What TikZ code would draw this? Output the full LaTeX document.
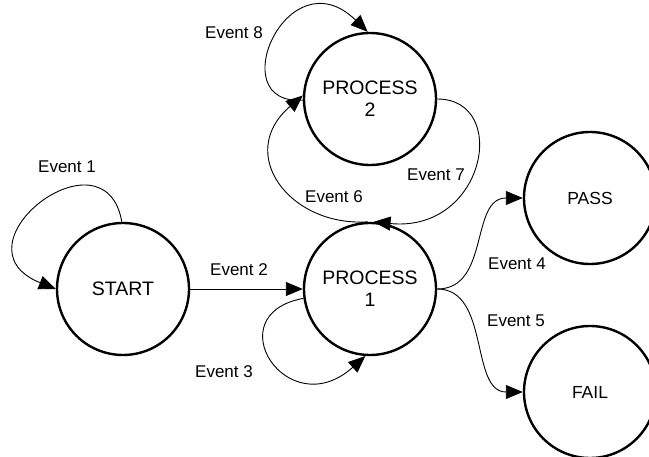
\documentclass[tikz,border=0pt]{standalone}
\usepackage{fontspec}
\setmainfont{Liberation Sans}
\usetikzlibrary{arrows.meta}
\tikzset{
  statenode/.style={circle, draw, line width=2.4pt, minimum size=132pt, inner sep=0pt, align=center,
    font=\fontsize{17.5}{22}\selectfont},
  bigstate/.style={statenode, font=\fontsize{19.5}{22}\selectfont},
  evlabel/.style={font=\fontsize{17}{20}\selectfont, inner sep=0pt},
  conn/.style={line width=0.9pt, -{Triangle[length=17pt,width=14pt]}},
}
\begin{document}
\begin{tikzpicture}[x=1pt,y=-1pt]
\useasboundingbox (0,0) rectangle (649,457);
\clip (0,0) rectangle (649,457);
\node[bigstate] (s)  at (123,289) {START};
\node[bigstate] (p1) at (370,289) {PROCESS\\1};
\node[bigstate] (p2) at (370,99)  {PROCESS\\2};
\node[statenode] (pa) at (590,198) {PASS};
\node[statenode] (fa) at (590,392) {FAIL};

\node[evlabel] (l1) at (67,167)  {Event 1};
\node[evlabel] (l2) at (239,270) {Event 2};
\node[evlabel] (l3) at (224,372) {Event 3};
\node[evlabel] (l4) at (517,264) {Event 4};
\node[evlabel] (l5) at (516,321) {Event 5};
\node[evlabel] (l6) at (334,197) {Event 6};
\node[evlabel] (l7) at (436,175) {Event 7};
\node[evlabel] (l8) at (234,33)  {Event 8};

\draw[conn] (s.91) .. controls +(-17,-97) and +(-107,-43) .. (s.west);
\draw[conn] (s.east) -- (p1.west);
\draw[conn] (p1.188) .. controls +(-88,16) and +(-78,70) .. (p1.266);
\draw[conn] (p1.92) .. controls +(-78,5) and +(-68,58) .. (p2.177);
\draw[conn] (p2.0) .. controls +(73,0) and +(112,11) .. (p1.87);
\draw[conn] (p2.181) .. controls +(-82,6) and +(-80,-78) .. (p2.92);
\draw[conn] (p1.east) .. controls +(53,0) and +(-53,0) .. (pa.west);
\draw[conn] (p1.east) .. controls +(53,0) and +(-53,0) .. (fa.west);
\end{tikzpicture}
\end{document}
